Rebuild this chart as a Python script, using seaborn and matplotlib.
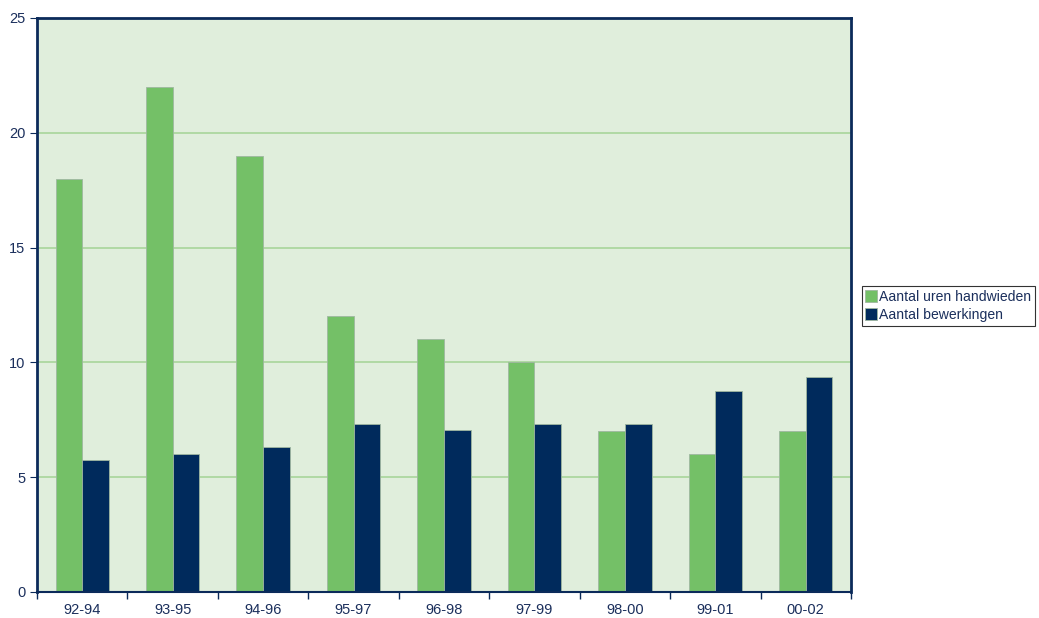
import pandas as pd
import matplotlib
matplotlib.use('Agg')
import matplotlib.pyplot as plt
import seaborn as sns

periods = ['92-94', '93-95', '94-96', '95-97', '96-98', '97-99', '98-00', '99-01', '00-02']
uren = [18, 22, 19, 12, 11, 10, 7, 6, 7]
bewerkingen = [5.75, 6.0, 6.3, 7.3, 7.05, 7.3, 7.3, 8.75, 9.35]
series = ['Aantal uren handwieden', 'Aantal bewerkingen']
colors = ['#74C067', '#002A5C']

df = pd.DataFrame({
    'periode': periods * 2,
    'waarde': uren + bewerkingen,
    'reeks': [series[0]] * len(periods) + [series[1]] * len(periods),
})

sns.set_style('white')
plt.rcParams['font.family'] = ['Liberation Sans', 'DejaVu Sans']
navy = '#1B2F5C'

fig = plt.figure(figsize=(10.39, 6.18), dpi=100)
ax = fig.add_axes([0.0356, 0.0421, 0.7834, 0.9288])
ax.set_facecolor('#E0EEDC')

sns.barplot(data=df, x='periode', y='waarde', hue='reeks', palette=colors,
            width=0.59, gap=0, saturation=1, ax=ax, legend=True,
            linewidth=0.6, edgecolor='#9FB7A0')

ax.set_ylim(0, 25)
ax.set_xlim(-0.5, len(periods) - 0.5)
ax.set_yticks(range(0, 26, 5))
ax.yaxis.grid(True, color='#A8D59A', linewidth=1.2)
ax.set_axisbelow(True)
ax.set_xlabel('')
ax.set_ylabel('')

for s in ax.spines.values():
    s.set_color('#0B2A5A')
    s.set_linewidth(2)
ax.spines['bottom'].set_linewidth(1.5)

# ticks between categories on x
ax.set_xticks(list(range(len(periods))))
ax.set_xticklabels(periods)
ax.set_xticks([i + 0.5 for i in range(-1, len(periods))], minor=True)
ax.tick_params(axis='x', which='both', bottom=True)
ax.tick_params(axis='x', which='major', length=0, colors=navy, labelsize=10.5, pad=8)
ax.tick_params(axis='x', which='minor', length=5, color='#0B2A5A', width=1, direction='out')
ax.tick_params(axis='y', left=True, length=5, color='#0B2A5A', direction='out',
               labelcolor=navy, labelsize=10.5)

ax.legend(loc='center left', bbox_to_anchor=(0.8295, 0.505), bbox_transform=fig.transFigure,
          frameon=True, fancybox=False, edgecolor='black', fontsize=10.1,
          handlelength=0.8, handleheight=0.9, handletextpad=0.2, borderpad=0.25,
          labelspacing=0.3, labelcolor=navy, borderaxespad=0)
leg = ax.get_legend()
leg.get_frame().set_linewidth(0.8)

fig.savefig('out.png', dpi=100)
